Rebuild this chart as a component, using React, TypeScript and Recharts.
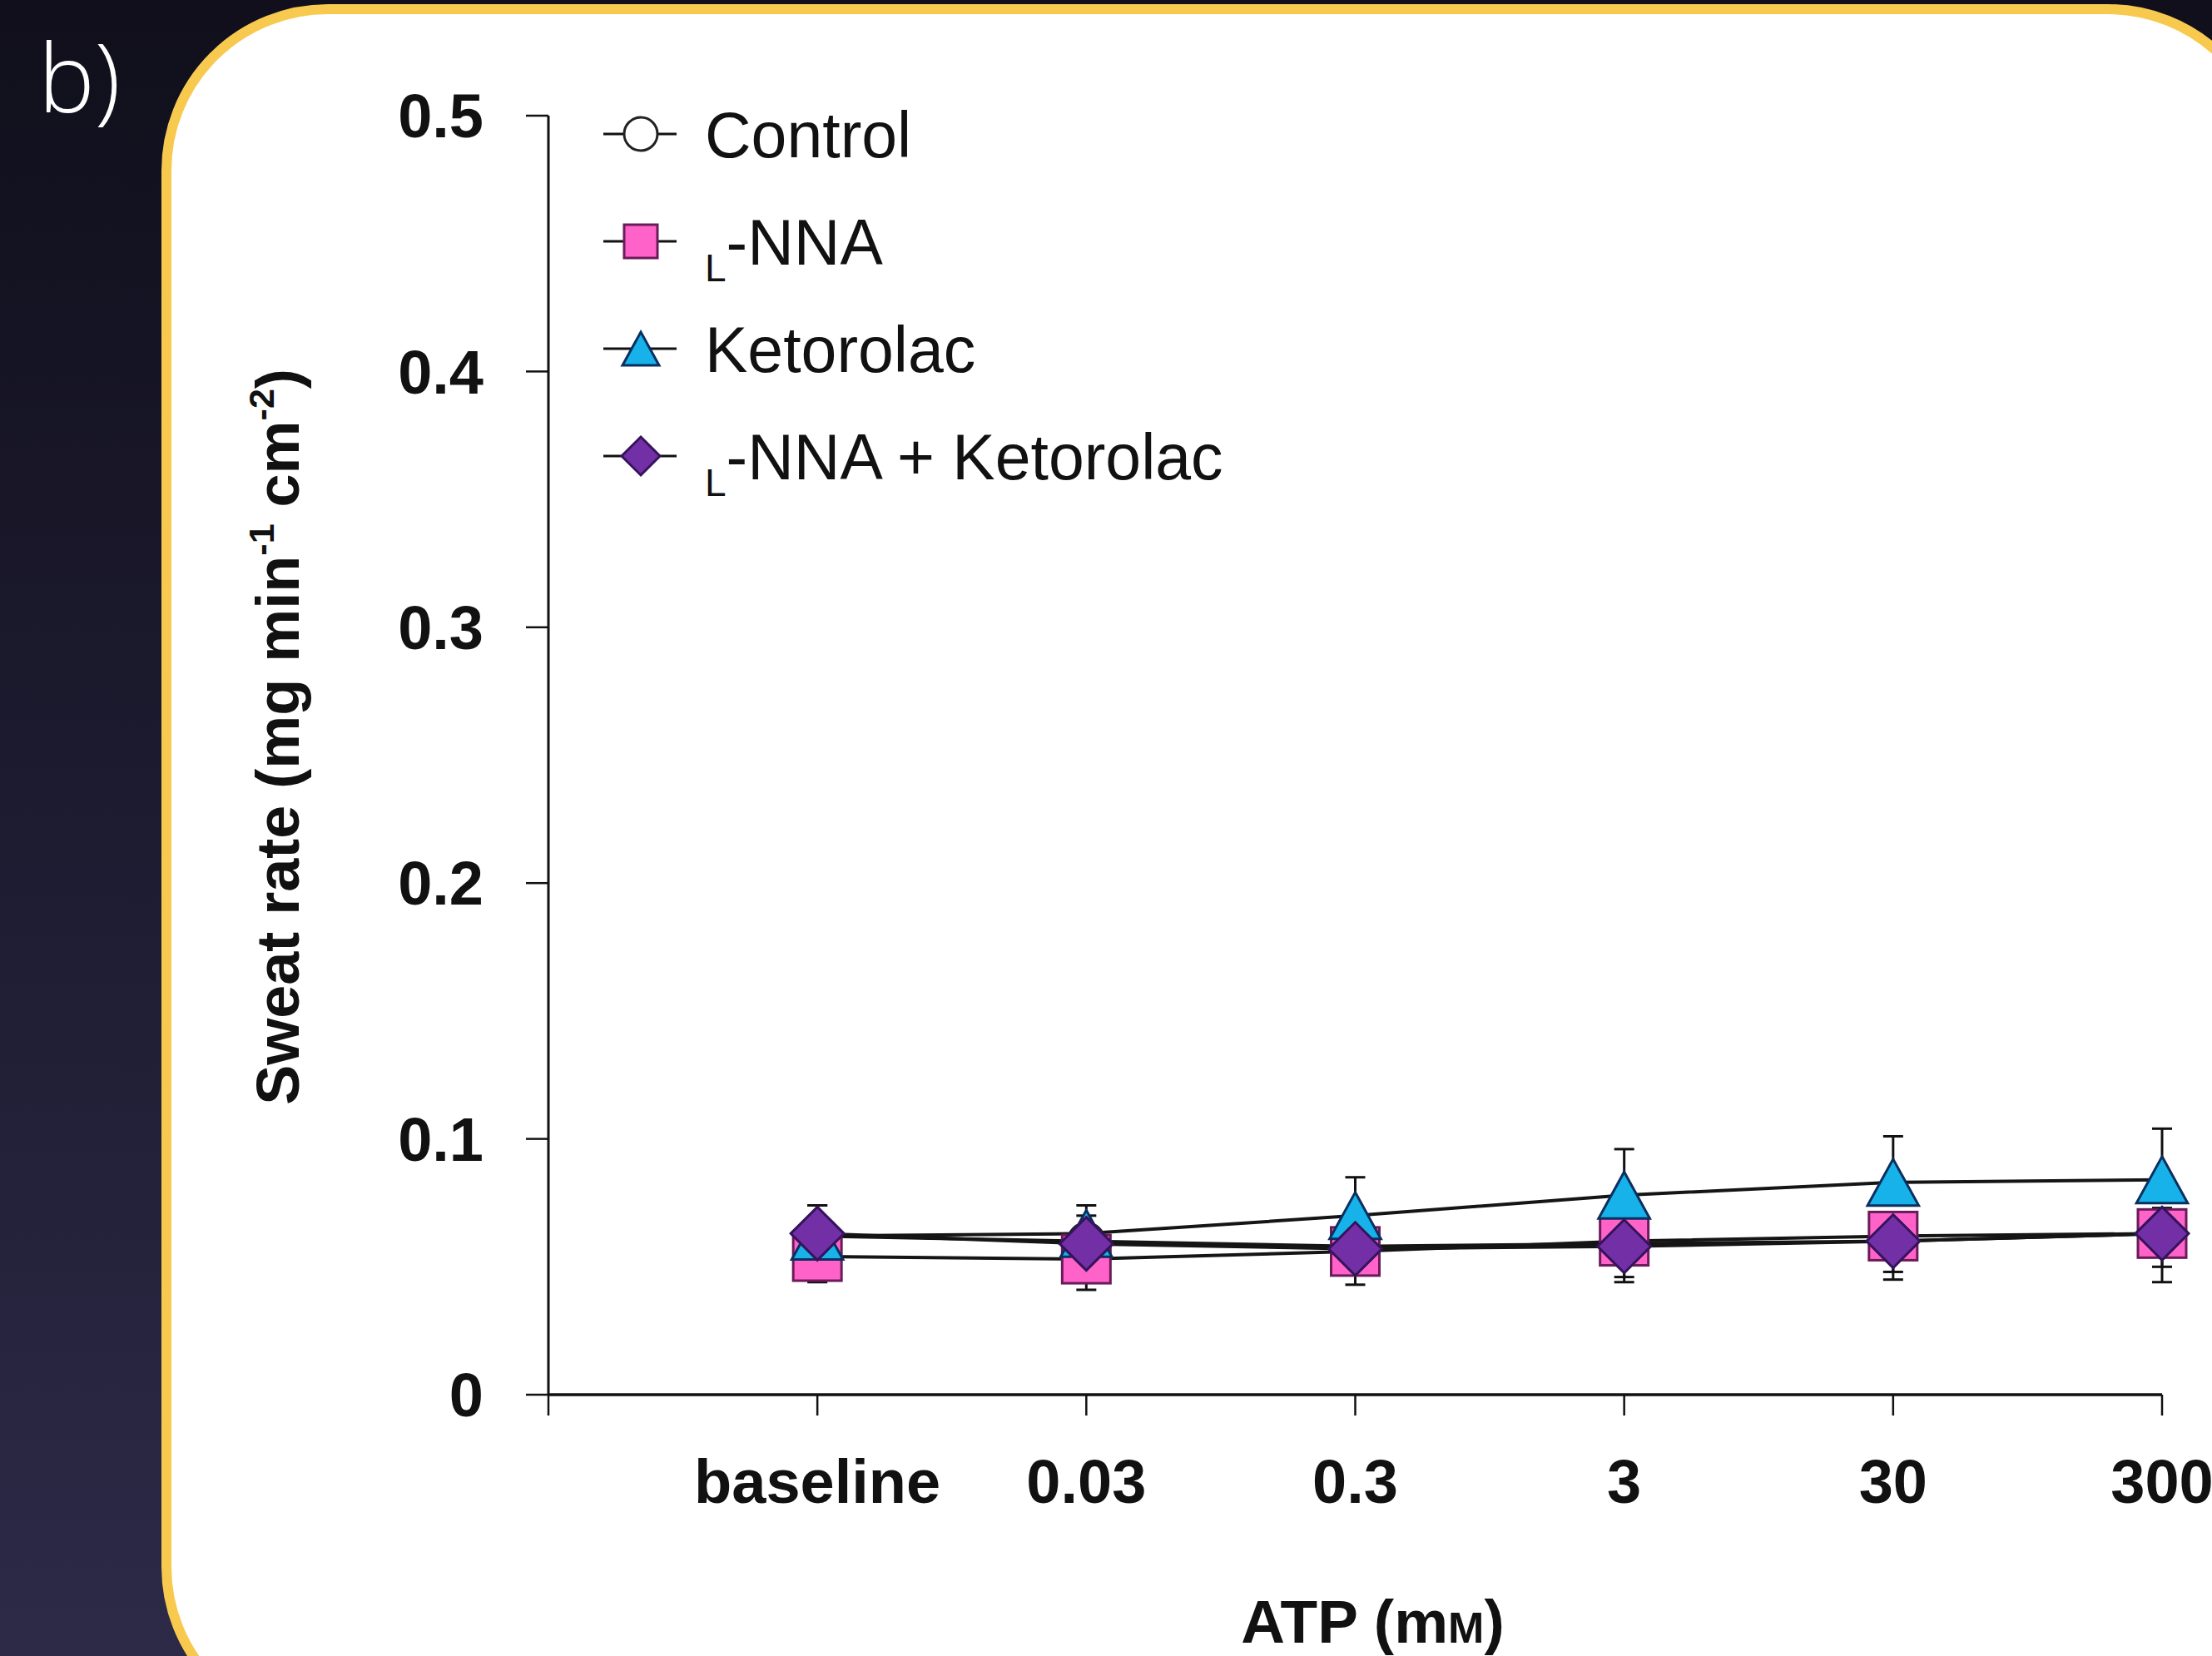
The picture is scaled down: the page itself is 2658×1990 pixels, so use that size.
import React from "react";
import { LineChart, Line, XAxis, YAxis, ErrorBar, Label } from "recharts";

// ATP doses on the x axis
const doses = ["baseline", "0.03", "0.3", "3", "30", "300"];

// sweat rate, mg min-1 cm-2
const control = [0.062, 0.06, 0.058, 0.059, 0.06, 0.063];
const lnna = [0.054, 0.053, 0.056, 0.06, 0.062, 0.063];
const ketorolac = [0.062, 0.063, 0.07, 0.078, 0.083, 0.084];
const lnnaKetorolac = [0.063, 0.059, 0.057, 0.058, 0.06, 0.063];

// error bars as [below, above]
const lnnaErr = [[0.01, 0], [0.012, 0], [0.013, 0], [0.016, 0], [0.017, 0], [0.019, 0]];
const ketorolacErr = [[0, 0.012], [0, 0.011], [0, 0.015], [0, 0.018], [0, 0.018], [0, 0.02]];
const lnnaKetorolacErr = [[0.008, 0.011], [0.009, 0.011], [0.01, 0.01], [0.012, 0.011], [0.012, 0.01], [0.013, 0.01]];

const yTicks = [0, 0.1, 0.2, 0.3, 0.4, 0.5];
const xTicks = [-1, 0, 1, 2, 3, 4, 5];

const data = doses.map((d, i) => ({
  x: i,
  dose: d,
  control: control[i],
  lnna: lnna[i],
  ketorolac: ketorolac[i],
  lnnaKetorolac: lnnaKetorolac[i],
  lnnaErr: lnnaErr[i],
  ketorolacErr: ketorolacErr[i],
  lnnaKetorolacErr: lnnaKetorolacErr[i],
}));

const FONT = "'Liberation Sans', Arial, Helvetica, sans-serif";
const INK = "#111111";

type Shape = "circle" | "square" | "triangle" | "diamond";

const Marker = ({ shape, cx, cy, size, fill, stroke }: any) => {
  const h = size / 2;
  const common = { fill, stroke, strokeWidth: 3, strokeLinejoin: "miter" as const };
  if (shape === "circle") return <circle cx={cx} cy={cy} r={h} {...common} />;
  if (shape === "square")
    return <rect x={cx - h} y={cy - h} width={size} height={size} {...common} />;
  if (shape === "triangle") {
    const w = h * 1.1;
    return (
      <polygon
        points={`${cx},${cy - h} ${cx + w},${cy + h} ${cx - w},${cy + h}`}
        {...common}
      />
    );
  }
  return (
    <polygon
      points={`${cx},${cy - h} ${cx + h},${cy} ${cx},${cy + h} ${cx - h},${cy}`}
      {...common}
    />
  );
};

const series = [
  { key: "control", name: "Control", shape: "circle" as Shape, size: 44, fill: "#ffffff", stroke: "#222222", err: null },
  { key: "lnna", name: "-NNA", sub: "L", shape: "square" as Shape, size: 58, fill: "#ff62c9", stroke: "#6a1b5a", err: "lnnaErr" },
  { key: "ketorolac", name: "Ketorolac", shape: "triangle" as Shape, size: 56, fill: "#17b2ea", stroke: "#0b2f5e", err: "ketorolacErr" },
  { key: "lnnaKetorolac", name: "-NNA + Ketorolac", sub: "L", shape: "diamond" as Shape, size: 64, fill: "#7330a6", stroke: "#35135c", err: "lnnaKetorolacErr" },
];

const dotRenderer = (s: any) => (p: any) => (
  <Marker
    key={`${s.key}-${p.index}`}
    shape={s.shape}
    cx={p.cx}
    cy={p.cy}
    size={s.size}
    fill={s.fill}
    stroke={s.stroke}
  />
);

const YTitle = (props: any) => {
  const vb = props.viewBox || { x: 459, y: 139, width: 200, height: 1537 };
  const cx = vb.x - 100;
  const cy = vb.y + vb.height / 2 - 22;
  return (
    <text
      transform={`translate(${cx},${cy}) rotate(-90)`}
      textAnchor="middle"
      fontFamily={FONT}
      fontWeight={700}
      fontSize={72}
      fill={INK}
    >
      <tspan>Sweat rate (mg min</tspan>
      <tspan fontSize={43} dy={-30}>-1</tspan>
      <tspan dy={30}> cm</tspan>
      <tspan fontSize={43} dy={-30}>-2</tspan>
      <tspan dy={30}>)</tspan>
    </text>
  );
};

const XTitle = (props: any) => {
  const vb = props.viewBox || { x: 659, y: 1676, width: 1939, height: 150 };
  const cx = vb.x + vb.width / 2 + 21;
  const y = vb.y + 298;
  return (
    <text x={cx} y={y} textAnchor="middle" fontFamily={FONT} fontWeight={700} fontSize={73} fill={INK}>
      <tspan>ATP (m</tspan>
      <tspan fontSize={52}>M</tspan>
      <tspan>)</tspan>
    </text>
  );
};

const LegendBlock = () => {
  const rowY = [161, 290, 419, 548];
  return (
    <svg
      width={2658}
      height={1990}
      style={{ position: "absolute", left: 0, top: 0, pointerEvents: "none" }}
    >
      {series.map((s, i) => {
        const y = rowY[i];
        return (
          <g key={s.key}>
            <line x1={725} x2={813} y1={y} y2={y} stroke={INK} strokeWidth={3} />
            <Marker shape={s.shape} cx={770} cy={y} size={s.shape === "diamond" ? 46 : 40} fill={s.fill} stroke={s.stroke} />
            <text
              x={847}
              y={y + 28}
              fontFamily={FONT}
              fontSize={77}
              fill={INK}
              style={{ whiteSpace: "pre" }}
            >
              {s.sub ? (
                <>
                  <tspan fontSize={46} dy={20}>{s.sub}</tspan>
                  <tspan dy={-20}>{s.name}</tspan>
                </>
              ) : (
                s.name
              )}
            </text>
          </g>
        );
      })}
    </svg>
  );
};

export default function App() {
  return (
    <div
      style={{
        position: "absolute",
        left: 0,
        top: 0,
        width: 2658,
        height: 1990,
        overflow: "hidden",
        background: "linear-gradient(180deg, #100f1b 0%, #1c1a2e 45%, #2c2a47 100%)",
      }}
    >
      <div
        style={{
          position: "absolute",
          left: 46,
          top: 16,
          color: "#ffffff",
          fontFamily: "'Open Sans', 'Noto Sans', sans-serif",
          fontWeight: 300,
          fontSize: 114,
          lineHeight: "150px",
        }}
      >
        b)
      </div>
      <div
        style={{
          position: "absolute",
          left: 194,
          top: 5,
          width: 2539,
          height: 2078,
          boxSizing: "border-box",
          border: "12px solid #f7c94f",
          borderRadius: 200,
          background: "#ffffff",
        }}
      />
      <div style={{ position: "absolute", left: 0, top: 0 }}>
        <LineChart
          width={2658}
          height={1990}
          data={data}
          margin={{ top: 139, right: 60, bottom: 164, left: 459 }}
        >
          <XAxis
            dataKey="x"
            type="number"
            domain={[-1, 5]}
            ticks={xTicks}
            interval={0}
            height={150}
            tickFormatter={(v: number) => (v >= 0 ? doses[v] : "")}
            tick={{ fill: INK, fontSize: 74, fontWeight: 700, fontFamily: FONT }}
            tickSize={25}
            tickMargin={52}
            tickLine={{ stroke: INK, strokeWidth: 2.5 }}
            axisLine={{ stroke: INK, strokeWidth: 3.5 }}
          >
            <Label content={XTitle} />
          </XAxis>
          <YAxis
            type="number"
            domain={[0, 0.5]}
            ticks={yTicks}
            interval={0}
            width={200}
            tickFormatter={(v: number) => (v === 0 ? "0" : v.toFixed(1))}
            tick={{ fill: INK, fontSize: 74, fontWeight: 700, fontFamily: FONT }}
            tickSize={27}
            tickMargin={51}
            tickLine={{ stroke: INK, strokeWidth: 2.5 }}
            axisLine={{ stroke: INK, strokeWidth: 3 }}
          >
            <Label content={YTitle} />
          </YAxis>
          {series.map((s) => (
            <Line
              key={s.key}
              type="linear"
              dataKey={s.key}
              stroke="#151515"
              strokeWidth={4}
              dot={dotRenderer(s)}
              activeDot={false}
              isAnimationActive={false}
            >
              {s.err && (
                <ErrorBar dataKey={s.err} width={12} stroke={INK} strokeWidth={3} direction="y" />
              )}
            </Line>
          ))}
        </LineChart>
      </div>
      <LegendBlock />
    </div>
  );
}
